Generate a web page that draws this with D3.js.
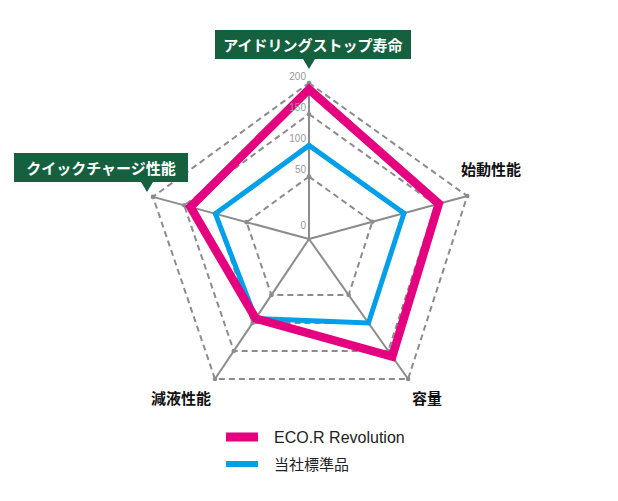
<!DOCTYPE html>
<html lang="ja">
<head>
<meta charset="UTF-8">
<title>Radar chart</title>
<script src="https://d3js.org/d3.v7.min.js"></script>
<style>
  body { margin: 0; background: #fff; }
  text { font-family: "Noto Sans CJK JP", "Liberation Sans", sans-serif; }
  text.latin { font-family: "Liberation Sans", "Noto Sans CJK JP", sans-serif; }
</style>
</head>
<body>
<div id="chart"></div>
<script>
// data
const axes = ["アイドリングストップ寿命", "始動性能", "容量", "減液性能", "クイックチャージ性能"];
const seriesNames = ["ECO.R Revolution", "当社標準品"];
const ecoValues = [190, 155, 160, 92, 140];
const stdValues = [100, 100, 100, 92, 100];
const ringValues = [50, 100, 150, 200];
const tickValues = [0, 50, 100, 150, 200];

const W = 618, H = 501;
const cx = 309, cy = 239;
// the picture's pentagon is a little uneven, so each spoke keeps its own angle/length
const axisAngle = [0, 74.8, 144.7, 213.9, 285.1];
const axisLen = [156, 164, 171.5, 168.6, 161.6];

const pink = "#e4007f", blue = "#00a0e9", grey = "#8c8c8c", green = "#15613f";

const svg = d3.select("#chart").append("svg")
    .attr("width", W).attr("height", H);

// 0..50 takes a bigger share of the radius than the upper steps
const r = d3.scaleLinear().domain([0, 50, 200]).range([0, 0.4, 1]);

function pt(i, v) {
    const a = axisAngle[i] * Math.PI / 180;
    const len = axisLen[i] * r(v);
    return [cx + Math.sin(a) * len, cy - Math.cos(a) * len];
}

const line = d3.line().curve(d3.curveLinearClosed);

// dashed rings
svg.append("g").selectAll("path")
    .data(ringValues)
    .join("path")
    .attr("d", v => line(axes.map((a, i) => pt(i, v))))
    .attr("fill", "none")
    .attr("stroke", grey)
    .attr("stroke-width", 2)
    .attr("stroke-dasharray", "6,4");

// spokes
svg.append("g").selectAll("line")
    .data(axes)
    .join("line")
    .attr("x1", cx).attr("y1", cy)
    .attr("x2", (d, i) => pt(i, 200)[0])
    .attr("y2", (d, i) => pt(i, 200)[1])
    .attr("stroke", grey)
    .attr("stroke-width", 2);

// little dots where rings cross spokes
const dots = [];
axes.forEach((a, i) => ringValues.forEach(v => dots.push(pt(i, v))));
svg.append("g").selectAll("circle")
    .data(dots)
    .join("circle")
    .attr("cx", d => d[0]).attr("cy", d => d[1])
    .attr("r", 2.3)
    .attr("fill", grey);

// series
svg.append("path")
    .attr("d", line(stdValues.map((v, i) => pt(i, v))))
    .attr("fill", "none")
    .attr("stroke", blue)
    .attr("stroke-width", 5)
    .attr("stroke-linejoin", "miter");

svg.append("path")
    .attr("d", line(ecoValues.map((v, i) => pt(i, v))))
    .attr("fill", "none")
    .attr("stroke", pink)
    .attr("stroke-width", 8.5)
    .attr("stroke-linejoin", "miter");

// tick labels along the top spoke
svg.append("g").selectAll("text")
    .data(tickValues)
    .join("text")
    .attr("class", "latin")
    .attr("x", cx - 3)
    .attr("y", v => pt(0, v)[1] - (v === 0 ? 14 : 7))
    .attr("text-anchor", "end")
    .attr("dominant-baseline", "central")
    .attr("font-size", 10)
    .attr("fill", "#999")
    .text(v => v);

// plain axis labels
const plainLabels = [
    { i: 1, x: 461, y: 168, anchor: "start" },
    { i: 2, x: 442, y: 397, anchor: "end" },
    { i: 3, x: 211, y: 397, anchor: "end" }
];
svg.append("g").selectAll("text")
    .data(plainLabels)
    .join("text")
    .attr("x", d => d.x).attr("y", d => d.y)
    .attr("text-anchor", d => d.anchor)
    .attr("dominant-baseline", "central")
    .attr("font-size", 15)
    .attr("font-weight", "bold")
    .attr("fill", "#111")
    .text(d => axes[d.i]);

// green callout boxes
const callouts = [
    { i: 0, x: 215, y: 30, w: 196, h: 29, tip: 309 },
    { i: 4, x: 14, y: 153, w: 174, h: 29, tip: 147 }
];
const cg = svg.append("g").selectAll("g")
    .data(callouts)
    .join("g");
cg.append("rect")
    .attr("x", d => d.x).attr("y", d => d.y)
    .attr("width", d => d.w).attr("height", d => d.h)
    .attr("fill", green);
cg.append("path")
    .attr("d", d => `M${d.tip - 6},${d.y + d.h} L${d.tip + 6},${d.y + d.h} L${d.tip},${d.y + d.h + 10} Z`)
    .attr("fill", green);
cg.append("text")
    .attr("x", d => d.x + d.w / 2)
    .attr("y", d => d.y + d.h / 2)
    .attr("text-anchor", "middle")
    .attr("dominant-baseline", "central")
    .attr("font-size", 15)
    .attr("font-weight", "bold")
    .attr("fill", "#fff")
    .text(d => axes[d.i]);

// legend
const legend = svg.append("g").selectAll("g")
    .data(seriesNames)
    .join("g")
    .attr("transform", (d, i) => `translate(226,${437 + i * 27})`);
legend.append("rect")
    .attr("x", 0)
    .attr("y", (d, i) => i === 0 ? -4.5 : -3)
    .attr("width", 32)
    .attr("height", (d, i) => i === 0 ? 9 : 6)
    .attr("fill", (d, i) => i === 0 ? pink : blue);
legend.append("text")
    .attr("class", "latin")
    .attr("x", 48)
    .attr("y", 0)
    .attr("dominant-baseline", "central")
    .attr("font-size", (d, i) => i === 0 ? 16 : 15)
    .attr("fill", "#222")
    .text(d => d);
</script>
</body>
</html>
